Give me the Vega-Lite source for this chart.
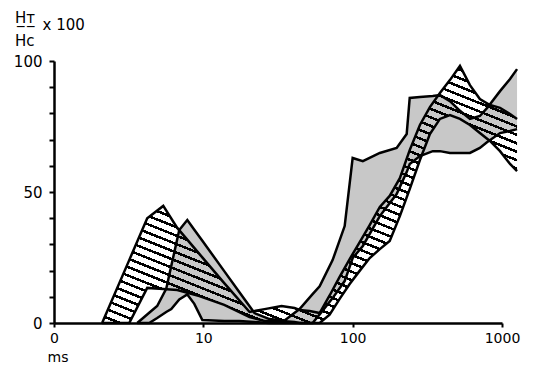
{
  "$schema": "https://vega.github.io/schema/vega-lite/v6.json",
  "width": 448,
  "height": 262,
  "autosize": "none",
  "padding": {"left": 54, "top": 61, "right": 44, "bottom": 42},
  "background": "white",
  "config": {"view": {"stroke": null}, "font": "DejaVu Sans"},
  "title": {
    "text": ["H\u0332\u1d1b\u0332", "Hc"],
    "anchor": "start",
    "frame": "group",
    "dx": -39,
    "offset": -47,
    "fontSize": 15,
    "font": "DejaVu Sans",
    "fontWeight": "normal",
    "lineHeight": 23,
    "baseline": "bottom",
    "color": "black"
  },
  "datasets": {
    "bands": [
      {"band": "H", "ms": 2.1, "lo": 0, "hi": 0},
      {"band": "H", "ms": 3.19, "lo": 0, "hi": 24},
      {"band": "H", "ms": 4.21, "lo": 13.4, "hi": 40},
      {"band": "H", "ms": 5.39, "lo": 13, "hi": 44.7},
      {"band": "H", "ms": 6.69, "lo": 12.6, "hi": 36.3},
      {"band": "H", "ms": 9.4, "lo": 10.3, "hi": 26.4},
      {"band": "H", "ms": 13.8, "lo": 6.9, "hi": 15.2},
      {"band": "H", "ms": 20.4, "lo": 2.3, "hi": 4.2},
      {"band": "H", "ms": 25.7, "lo": 0.8, "hi": 5.3},
      {"band": "H", "ms": 33.4, "lo": 0.8, "hi": 6.5},
      {"band": "H", "ms": 40.8, "lo": 0.4, "hi": 5.7},
      {"band": "H", "ms": 44.1, "lo": 0, "hi": 5},
      {"band": "H", "ms": 51.5, "lo": 0, "hi": 4.6},
      {"band": "H", "ms": 60.1, "lo": 0, "hi": 3.8},
      {"band": "H", "ms": 70.1, "lo": 3.2, "hi": 10.5},
      {"band": "H", "ms": 81.8, "lo": 9.2, "hi": 17.6},
      {"band": "H", "ms": 95.5, "lo": 14.9, "hi": 24.4},
      {"band": "H", "ms": 111, "lo": 19.8, "hi": 30.7},
      {"band": "H", "ms": 130, "lo": 24.8, "hi": 37.4},
      {"band": "H", "ms": 152, "lo": 28.2, "hi": 44.3},
      {"band": "H", "ms": 177, "lo": 31.3, "hi": 48.5},
      {"band": "H", "ms": 207, "lo": 40.8, "hi": 55.3},
      {"band": "H", "ms": 241, "lo": 51.1, "hi": 66},
      {"band": "H", "ms": 282, "lo": 62.2, "hi": 75.6},
      {"band": "H", "ms": 329, "lo": 72.1, "hi": 82.4},
      {"band": "H", "ms": 384, "lo": 77.9, "hi": 87.8},
      {"band": "H", "ms": 448, "lo": 79.4, "hi": 92.7},
      {"band": "H", "ms": 523, "lo": 77.9, "hi": 98.1},
      {"band": "H", "ms": 610, "lo": 75.6, "hi": 90.8},
      {"band": "H", "ms": 711, "lo": 72.5, "hi": 85.5},
      {"band": "H", "ms": 830, "lo": 69.5, "hi": 83.2},
      {"band": "H", "ms": 970, "lo": 65.6, "hi": 82.1},
      {"band": "H", "ms": 1132, "lo": 60.7, "hi": 79.8},
      {"band": "H", "ms": 1261, "lo": 58, "hi": 77.9},
      {"band": "S", "ms": 3.61, "lo": 0, "hi": 0},
      {"band": "S", "ms": 4.34, "lo": 0, "hi": 3.9},
      {"band": "S", "ms": 4.91, "lo": 1.9, "hi": 6.5},
      {"band": "S", "ms": 5.64, "lo": 4.2, "hi": 13},
      {"band": "S", "ms": 6.1, "lo": 5.3, "hi": 21.8},
      {"band": "S", "ms": 6.9, "lo": 9, "hi": 35.5},
      {"band": "S", "ms": 7.81, "lo": 10.9, "hi": 39.3},
      {"band": "S", "ms": 8.7, "lo": 7.3, "hi": 35.6},
      {"band": "S", "ms": 9.85, "lo": 1.1, "hi": 31.4},
      {"band": "S", "ms": 13.8, "lo": 0.8, "hi": 19.8},
      {"band": "S", "ms": 17.4, "lo": 0.8, "hi": 11.8},
      {"band": "S", "ms": 22, "lo": 0.4, "hi": 3.8},
      {"band": "S", "ms": 27.7, "lo": 0, "hi": 1.5},
      {"band": "S", "ms": 35, "lo": 0, "hi": 1},
      {"band": "S", "ms": 44.1, "lo": 0, "hi": 5.3},
      {"band": "S", "ms": 53.9, "lo": 0, "hi": 11},
      {"band": "S", "ms": 60.1, "lo": 3.3, "hi": 14},
      {"band": "S", "ms": 73.4, "lo": 9.5, "hi": 24},
      {"band": "S", "ms": 88.4, "lo": 16, "hi": 37},
      {"band": "S", "ms": 100, "lo": 24.8, "hi": 63},
      {"band": "S", "ms": 117, "lo": 29.4, "hi": 61.8},
      {"band": "S", "ms": 152, "lo": 40.8, "hi": 64.9},
      {"band": "S", "ms": 197, "lo": 49.2, "hi": 66.8},
      {"band": "S", "ms": 230, "lo": 57.6, "hi": 72.1},
      {"band": "S", "ms": 241, "lo": 60.7, "hi": 85.9},
      {"band": "S", "ms": 282, "lo": 63.7, "hi": 86.3},
      {"band": "S", "ms": 344, "lo": 65.6, "hi": 86.6},
      {"band": "S", "ms": 384, "lo": 65.6, "hi": 87},
      {"band": "S", "ms": 448, "lo": 64.9, "hi": 84.7},
      {"band": "S", "ms": 523, "lo": 64.9, "hi": 81},
      {"band": "S", "ms": 610, "lo": 64.9, "hi": 77.9},
      {"band": "S", "ms": 711, "lo": 66.8, "hi": 79},
      {"band": "S", "ms": 793, "lo": 69, "hi": 82},
      {"band": "S", "ms": 970, "lo": 72.5, "hi": 88.5},
      {"band": "S", "ms": 1132, "lo": 73.3, "hi": 93.1},
      {"band": "S", "ms": 1261, "lo": 74, "hi": 96.9}
    ]
  },
  "data": {"name": "bands"},
  "encoding": {
    "x": {
      "field": "ms",
      "type": "quantitative",
      "scale": {"type": "log", "domain": [1, 1000], "nice": false},
      "axis": {
        "values": [1, 10, 100, 1000],
        "format": "d",
        "labelExpr": "datum.value == 1 ? '0' : datum.label",
        "title": "ms",
        "titleX": -7,
        "titleY": 38,
        "titleAlign": "left",
        "titleBaseline": "alphabetic",
        "titleFontSize": 14,
        "titleFontWeight": "normal",
        "titleColor": "black",
        "titleFont": "DejaVu Sans",
        "domainColor": "black",
        "domainWidth": 2.5,
        "tickColor": "black",
        "tickWidth": 2,
        "tickSize": 4,
        "labelFontSize": 14,
        "labelFont": "DejaVu Sans",
        "labelColor": "black",
        "labelPadding": 4,
        "labelFlush": false,
        "labelOverlap": false,
        "grid": false
      }
    }
  },
  "layer": [
    {
      "transform": [{"filter": "datum.band == 'S'"}],
      "mark": {"type": "area", "fill": "#c8c8c8", "stroke": null},
      "encoding": {
        "y": {
          "field": "hi",
          "type": "quantitative",
          "scale": {"domain": [0, 100]},
          "axis": {
            "values": [0, 10, 20, 30, 40, 50, 60, 70, 80, 90, 100],
            "labelExpr": "datum.value % 50 === 0 ? datum.label : ''",
            "title": "x 100",
            "titleAngle": 0,
            "titleX": -12,
            "titleY": -37,
            "titleAlign": "left",
            "titleBaseline": "middle",
            "titleFontSize": 15,
            "titleFontWeight": "normal",
            "titleColor": "black",
            "titleFont": "DejaVu Sans",
            "domainColor": "black",
            "domainWidth": 2.5,
            "tickColor": "black",
            "tickWidth": 2,
            "tickSize": 5,
            "labelFontSize": 15,
            "labelFont": "DejaVu Sans",
            "labelColor": "black",
            "labelPadding": 7,
            "labelOverlap": false,
            "grid": false
          }
        },
        "y2": {"field": "lo"}
      }
    },
    {
      "transform": [{"filter": "datum.band == 'H'"}],
      "mark": {
        "type": "area",
        "stroke": null,
        "fill": {
          "gradient": "linear",
          "x1": 1, "y1": 0, "x2": 0.252, "y2": 1.162,
          "stops": [
            {"offset": 0, "color": "#000"}, {"offset": 0.0064, "color": "#000"}, {"offset": 0.0064, "color": "rgba(0,0,0,0)"}, {"offset": 0.02, "color": "rgba(0,0,0,0)"},
            {"offset": 0.02, "color": "#000"}, {"offset": 0.0264, "color": "#000"}, {"offset": 0.0264, "color": "rgba(0,0,0,0)"}, {"offset": 0.04, "color": "rgba(0,0,0,0)"},
            {"offset": 0.04, "color": "#000"}, {"offset": 0.0464, "color": "#000"}, {"offset": 0.0464, "color": "rgba(0,0,0,0)"}, {"offset": 0.06, "color": "rgba(0,0,0,0)"},
            {"offset": 0.06, "color": "#000"}, {"offset": 0.0664, "color": "#000"}, {"offset": 0.0664, "color": "rgba(0,0,0,0)"}, {"offset": 0.08, "color": "rgba(0,0,0,0)"},
            {"offset": 0.08, "color": "#000"}, {"offset": 0.0864, "color": "#000"}, {"offset": 0.0864, "color": "rgba(0,0,0,0)"}, {"offset": 0.1, "color": "rgba(0,0,0,0)"},
            {"offset": 0.1, "color": "#000"}, {"offset": 0.1064, "color": "#000"}, {"offset": 0.1064, "color": "rgba(0,0,0,0)"}, {"offset": 0.12, "color": "rgba(0,0,0,0)"},
            {"offset": 0.12, "color": "#000"}, {"offset": 0.1264, "color": "#000"}, {"offset": 0.1264, "color": "rgba(0,0,0,0)"}, {"offset": 0.14, "color": "rgba(0,0,0,0)"},
            {"offset": 0.14, "color": "#000"}, {"offset": 0.1464, "color": "#000"}, {"offset": 0.1464, "color": "rgba(0,0,0,0)"}, {"offset": 0.16, "color": "rgba(0,0,0,0)"},
            {"offset": 0.16, "color": "#000"}, {"offset": 0.1664, "color": "#000"}, {"offset": 0.1664, "color": "rgba(0,0,0,0)"}, {"offset": 0.18, "color": "rgba(0,0,0,0)"},
            {"offset": 0.18, "color": "#000"}, {"offset": 0.1864, "color": "#000"}, {"offset": 0.1864, "color": "rgba(0,0,0,0)"}, {"offset": 0.2, "color": "rgba(0,0,0,0)"},
            {"offset": 0.2, "color": "#000"}, {"offset": 0.2064, "color": "#000"}, {"offset": 0.2064, "color": "rgba(0,0,0,0)"}, {"offset": 0.22, "color": "rgba(0,0,0,0)"},
            {"offset": 0.22, "color": "#000"}, {"offset": 0.2264, "color": "#000"}, {"offset": 0.2264, "color": "rgba(0,0,0,0)"}, {"offset": 0.24, "color": "rgba(0,0,0,0)"},
            {"offset": 0.24, "color": "#000"}, {"offset": 0.2464, "color": "#000"}, {"offset": 0.2464, "color": "rgba(0,0,0,0)"}, {"offset": 0.26, "color": "rgba(0,0,0,0)"},
            {"offset": 0.26, "color": "#000"}, {"offset": 0.2664, "color": "#000"}, {"offset": 0.2664, "color": "rgba(0,0,0,0)"}, {"offset": 0.28, "color": "rgba(0,0,0,0)"},
            {"offset": 0.28, "color": "#000"}, {"offset": 0.2864, "color": "#000"}, {"offset": 0.2864, "color": "rgba(0,0,0,0)"}, {"offset": 0.3, "color": "rgba(0,0,0,0)"},
            {"offset": 0.3, "color": "#000"}, {"offset": 0.3064, "color": "#000"}, {"offset": 0.3064, "color": "rgba(0,0,0,0)"}, {"offset": 0.32, "color": "rgba(0,0,0,0)"},
            {"offset": 0.32, "color": "#000"}, {"offset": 0.3264, "color": "#000"}, {"offset": 0.3264, "color": "rgba(0,0,0,0)"}, {"offset": 0.34, "color": "rgba(0,0,0,0)"},
            {"offset": 0.34, "color": "#000"}, {"offset": 0.3464, "color": "#000"}, {"offset": 0.3464, "color": "rgba(0,0,0,0)"}, {"offset": 0.36, "color": "rgba(0,0,0,0)"},
            {"offset": 0.36, "color": "#000"}, {"offset": 0.3664, "color": "#000"}, {"offset": 0.3664, "color": "rgba(0,0,0,0)"}, {"offset": 0.38, "color": "rgba(0,0,0,0)"},
            {"offset": 0.38, "color": "#000"}, {"offset": 0.3864, "color": "#000"}, {"offset": 0.3864, "color": "rgba(0,0,0,0)"}, {"offset": 0.4, "color": "rgba(0,0,0,0)"},
            {"offset": 0.4, "color": "#000"}, {"offset": 0.4064, "color": "#000"}, {"offset": 0.4064, "color": "rgba(0,0,0,0)"}, {"offset": 0.42, "color": "rgba(0,0,0,0)"},
            {"offset": 0.42, "color": "#000"}, {"offset": 0.4264, "color": "#000"}, {"offset": 0.4264, "color": "rgba(0,0,0,0)"}, {"offset": 0.44, "color": "rgba(0,0,0,0)"},
            {"offset": 0.44, "color": "#000"}, {"offset": 0.4464, "color": "#000"}, {"offset": 0.4464, "color": "rgba(0,0,0,0)"}, {"offset": 0.46, "color": "rgba(0,0,0,0)"},
            {"offset": 0.46, "color": "#000"}, {"offset": 0.4664, "color": "#000"}, {"offset": 0.4664, "color": "rgba(0,0,0,0)"}, {"offset": 0.48, "color": "rgba(0,0,0,0)"},
            {"offset": 0.48, "color": "#000"}, {"offset": 0.4864, "color": "#000"}, {"offset": 0.4864, "color": "rgba(0,0,0,0)"}, {"offset": 0.5, "color": "rgba(0,0,0,0)"},
            {"offset": 0.5, "color": "#000"}, {"offset": 0.5064, "color": "#000"}, {"offset": 0.5064, "color": "rgba(0,0,0,0)"}, {"offset": 0.52, "color": "rgba(0,0,0,0)"},
            {"offset": 0.52, "color": "#000"}, {"offset": 0.5264, "color": "#000"}, {"offset": 0.5264, "color": "rgba(0,0,0,0)"}, {"offset": 0.54, "color": "rgba(0,0,0,0)"},
            {"offset": 0.54, "color": "#000"}, {"offset": 0.5464, "color": "#000"}, {"offset": 0.5464, "color": "rgba(0,0,0,0)"}, {"offset": 0.56, "color": "rgba(0,0,0,0)"},
            {"offset": 0.56, "color": "#000"}, {"offset": 0.5664, "color": "#000"}, {"offset": 0.5664, "color": "rgba(0,0,0,0)"}, {"offset": 0.58, "color": "rgba(0,0,0,0)"},
            {"offset": 0.58, "color": "#000"}, {"offset": 0.5864, "color": "#000"}, {"offset": 0.5864, "color": "rgba(0,0,0,0)"}, {"offset": 0.6, "color": "rgba(0,0,0,0)"},
            {"offset": 0.6, "color": "#000"}, {"offset": 0.6064, "color": "#000"}, {"offset": 0.6064, "color": "rgba(0,0,0,0)"}, {"offset": 0.62, "color": "rgba(0,0,0,0)"},
            {"offset": 0.62, "color": "#000"}, {"offset": 0.6264, "color": "#000"}, {"offset": 0.6264, "color": "rgba(0,0,0,0)"}, {"offset": 0.64, "color": "rgba(0,0,0,0)"},
            {"offset": 0.64, "color": "#000"}, {"offset": 0.6464, "color": "#000"}, {"offset": 0.6464, "color": "rgba(0,0,0,0)"}, {"offset": 0.66, "color": "rgba(0,0,0,0)"},
            {"offset": 0.66, "color": "#000"}, {"offset": 0.6664, "color": "#000"}, {"offset": 0.6664, "color": "rgba(0,0,0,0)"}, {"offset": 0.68, "color": "rgba(0,0,0,0)"},
            {"offset": 0.68, "color": "#000"}, {"offset": 0.6864, "color": "#000"}, {"offset": 0.6864, "color": "rgba(0,0,0,0)"}, {"offset": 0.7, "color": "rgba(0,0,0,0)"},
            {"offset": 0.7, "color": "#000"}, {"offset": 0.7064, "color": "#000"}, {"offset": 0.7064, "color": "rgba(0,0,0,0)"}, {"offset": 0.72, "color": "rgba(0,0,0,0)"},
            {"offset": 0.72, "color": "#000"}, {"offset": 0.7264, "color": "#000"}, {"offset": 0.7264, "color": "rgba(0,0,0,0)"}, {"offset": 0.74, "color": "rgba(0,0,0,0)"},
            {"offset": 0.74, "color": "#000"}, {"offset": 0.7464, "color": "#000"}, {"offset": 0.7464, "color": "rgba(0,0,0,0)"}, {"offset": 0.76, "color": "rgba(0,0,0,0)"},
            {"offset": 0.76, "color": "#000"}, {"offset": 0.7664, "color": "#000"}, {"offset": 0.7664, "color": "rgba(0,0,0,0)"}, {"offset": 0.78, "color": "rgba(0,0,0,0)"},
            {"offset": 0.78, "color": "#000"}, {"offset": 0.7864, "color": "#000"}, {"offset": 0.7864, "color": "rgba(0,0,0,0)"}, {"offset": 0.8, "color": "rgba(0,0,0,0)"},
            {"offset": 0.8, "color": "#000"}, {"offset": 0.8064, "color": "#000"}, {"offset": 0.8064, "color": "rgba(0,0,0,0)"}, {"offset": 0.82, "color": "rgba(0,0,0,0)"},
            {"offset": 0.82, "color": "#000"}, {"offset": 0.8264, "color": "#000"}, {"offset": 0.8264, "color": "rgba(0,0,0,0)"}, {"offset": 0.84, "color": "rgba(0,0,0,0)"},
            {"offset": 0.84, "color": "#000"}, {"offset": 0.8464, "color": "#000"}, {"offset": 0.8464, "color": "rgba(0,0,0,0)"}, {"offset": 0.86, "color": "rgba(0,0,0,0)"},
            {"offset": 0.86, "color": "#000"}, {"offset": 0.8664, "color": "#000"}, {"offset": 0.8664, "color": "rgba(0,0,0,0)"}, {"offset": 0.88, "color": "rgba(0,0,0,0)"},
            {"offset": 0.88, "color": "#000"}, {"offset": 0.8864, "color": "#000"}, {"offset": 0.8864, "color": "rgba(0,0,0,0)"}, {"offset": 0.9, "color": "rgba(0,0,0,0)"},
            {"offset": 0.9, "color": "#000"}, {"offset": 0.9064, "color": "#000"}, {"offset": 0.9064, "color": "rgba(0,0,0,0)"}, {"offset": 0.92, "color": "rgba(0,0,0,0)"},
            {"offset": 0.92, "color": "#000"}, {"offset": 0.9264, "color": "#000"}, {"offset": 0.9264, "color": "rgba(0,0,0,0)"}, {"offset": 0.94, "color": "rgba(0,0,0,0)"},
            {"offset": 0.94, "color": "#000"}, {"offset": 0.9464, "color": "#000"}, {"offset": 0.9464, "color": "rgba(0,0,0,0)"}, {"offset": 0.96, "color": "rgba(0,0,0,0)"},
            {"offset": 0.96, "color": "#000"}, {"offset": 0.9664, "color": "#000"}, {"offset": 0.9664, "color": "rgba(0,0,0,0)"}, {"offset": 0.98, "color": "rgba(0,0,0,0)"},
            {"offset": 0.98, "color": "#000"}, {"offset": 0.9864, "color": "#000"}, {"offset": 0.9864, "color": "rgba(0,0,0,0)"}, {"offset": 1, "color": "rgba(0,0,0,0)"}
          ]
        }
      },
      "encoding": {
        "y": {
          "field": "hi",
          "type": "quantitative",
          "scale": {"domain": [0, 100]},
          "axis": {
            "values": [0, 10, 20, 30, 40, 50, 60, 70, 80, 90, 100],
            "labelExpr": "datum.value % 50 === 0 ? datum.label : ''",
            "title": "x 100",
            "titleAngle": 0,
            "titleX": -12,
            "titleY": -37,
            "titleAlign": "left",
            "titleBaseline": "middle",
            "titleFontSize": 15,
            "titleFontWeight": "normal",
            "titleColor": "black",
            "titleFont": "DejaVu Sans",
            "domainColor": "black",
            "domainWidth": 2.5,
            "tickColor": "black",
            "tickWidth": 2,
            "tickSize": 5,
            "labelFontSize": 15,
            "labelFont": "DejaVu Sans",
            "labelColor": "black",
            "labelPadding": 7,
            "labelOverlap": false,
            "grid": false
          }
        },
        "y2": {"field": "lo"}
      }
    },
    {
      "transform": [{"fold": ["lo", "hi"], "as": ["edge", "val"]}],
      "mark": {"type": "line", "color": "black", "strokeWidth": 2.5},
      "encoding": {
        "y": {
          "field": "val",
          "type": "quantitative",
          "scale": {"domain": [0, 100]},
          "axis": {
            "values": [0, 10, 20, 30, 40, 50, 60, 70, 80, 90, 100],
            "labelExpr": "datum.value % 50 === 0 ? datum.label : ''",
            "title": "x 100",
            "titleAngle": 0,
            "titleX": -12,
            "titleY": -37,
            "titleAlign": "left",
            "titleBaseline": "middle",
            "titleFontSize": 15,
            "titleFontWeight": "normal",
            "titleColor": "black",
            "titleFont": "DejaVu Sans",
            "domainColor": "black",
            "domainWidth": 2.5,
            "tickColor": "black",
            "tickWidth": 2,
            "tickSize": 5,
            "labelFontSize": 15,
            "labelFont": "DejaVu Sans",
            "labelColor": "black",
            "labelPadding": 7,
            "labelOverlap": false,
            "grid": false
          }
        },
        "detail": [{"field": "band"}, {"field": "edge"}]
      }
    }
  ]
}
